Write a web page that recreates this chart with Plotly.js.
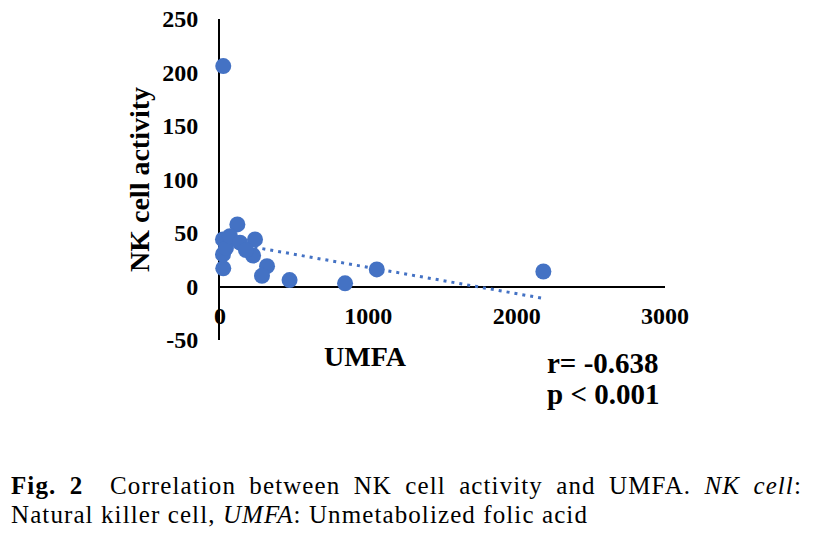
<!DOCTYPE html>
<html>
<head>
<meta charset="utf-8">
<script src="https://cdn.plot.ly/plotly-3.0.1.min.js"></script>
<style>
  html, body { margin: 0; padding: 0; background: #ffffff; }
  #chart { width: 814px; height: 557px; }
</style>
</head>
<body>
<div id="chart"></div>
<script>
// Data
const umfa       = [22, 22, 843, 1057, 2180, 469, 317, 283, 236, 117, 223, 20, 20, 40, 67, 135, 175];
const nkActivity = [206, 17, 3, 16, 14, 6, 19, 10, 44, 58, 29, 44, 30, 36, 47, 41, 34];

// Linear trendline end points
const trendUmfa = [20, 2180];
const trendNk   = [41.9, -11.1];

// Tick labels
const xTickVals = [0, 1000, 2000, 3000];
const xTickText = ['0', '1000', '2000', '3000'];
const yTickVals = [-50, 0, 50, 100, 150, 200, 250];
const yTickText = ['-50', '0', '50', '100', '150', '200', '250'];

// Text
const xTitle = 'UMFA';
const yTitle = 'NK cell activity';
const statR = 'r= -0.638';
const statP = 'p < 0.001';
const captionLine1 = '<b>Fig. 2</b>&nbsp; Correlation between NK cell activity and UMFA. <i>NK cell</i>:';
const captionLine2 = 'Natural killer cell, <i>UMFA</i>: Unmetabolized folic acid';

const blue = '#4472C4';
const serif = 'Liberation Serif, Times New Roman, serif';

const traces = [
  {
    x: trendUmfa, y: trendNk,
    type: 'scatter', mode: 'lines',
    line: { color: blue, width: 3, dash: '3px,5px' },
    hoverinfo: 'skip', showlegend: false, cliponaxis: false
  },
  {
    x: umfa, y: nkActivity,
    type: 'scatter', mode: 'markers',
    marker: { color: blue, size: 16 },
    showlegend: false, cliponaxis: false
  }
];

const layout = {
  width: 814, height: 557,
  margin: { l: 220, r: 149, t: 19, b: 217 },
  paper_bgcolor: '#ffffff', plot_bgcolor: '#ffffff',
  showlegend: false,
  font: { family: serif, color: '#000000' },
  xaxis: {
    range: [0, 3000],
    anchor: 'free', position: 50 / 300,
    tickvals: xTickVals, ticktext: xTickText,
    tickfont: { family: serif, size: 24, weight: 'bold', color: '#000' },
    ticks: '', ticklabelstandoff: 8,
    showgrid: false, zeroline: false,
    showline: true, linecolor: '#000', linewidth: 2,
    layer: 'below traces'
  },
  yaxis: {
    range: [-50, 250],
    tickvals: yTickVals, ticktext: yTickText,
    tickfont: { family: serif, size: 24, weight: 'bold', color: '#000' },
    ticks: '', ticklabelstandoff: 15,
    showgrid: false, zeroline: false,
    showline: true, linecolor: '#000', linewidth: 2,
    layer: 'below traces'
  },
  annotations: [
    { xref: 'paper', yref: 'paper', x: (140 - 220) / 445, y: (340 - 180) / 321,
      text: '<b>' + yTitle + '</b>', textangle: -90, showarrow: false,
      xanchor: 'center', yanchor: 'middle',
      font: { family: serif, size: 28, color: '#000' } },
    { xref: 'paper', yref: 'paper', x: (365.5 - 220) / 445, y: (340 - 356) / 321,
      text: '<b>' + xTitle + '</b>', showarrow: false,
      xanchor: 'center', yanchor: 'middle',
      font: { family: serif, size: 28, color: '#000' } },
    { xref: 'paper', yref: 'paper', x: (545 - 220) / 445, y: (340 - 362.5) / 321,
      text: '<b>' + statR + '</b>', showarrow: false,
      xanchor: 'left', yanchor: 'middle',
      font: { family: serif, size: 29, color: '#000' } },
    { xref: 'paper', yref: 'paper', x: (545 - 220) / 445, y: (340 - 393.5) / 321,
      text: '<b>' + statP + '</b>', showarrow: false,
      xanchor: 'left', yanchor: 'middle',
      font: { family: serif, size: 29, color: '#000' } },
    { xref: 'paper', yref: 'paper', x: (9 - 220) / 445, y: (340 - 485.5) / 321,
      text: '<span style="letter-spacing:1.1px;word-spacing:6px">' + captionLine1 + '</span>',
      showarrow: false, xanchor: 'left', yanchor: 'middle', align: 'left',
      font: { family: serif, size: 25, color: '#000' } },
    { xref: 'paper', yref: 'paper', x: (9 - 220) / 445, y: (340 - 514.5) / 321,
      text: '<span style="letter-spacing:1.1px">' + captionLine2 + '</span>',
      showarrow: false, xanchor: 'left', yanchor: 'middle', align: 'left',
      font: { family: serif, size: 25, color: '#000' } }
  ]
};

Plotly.newPlot('chart', traces, layout, { displayModeBar: false, staticPlot: true });
</script>
</body>
</html>
